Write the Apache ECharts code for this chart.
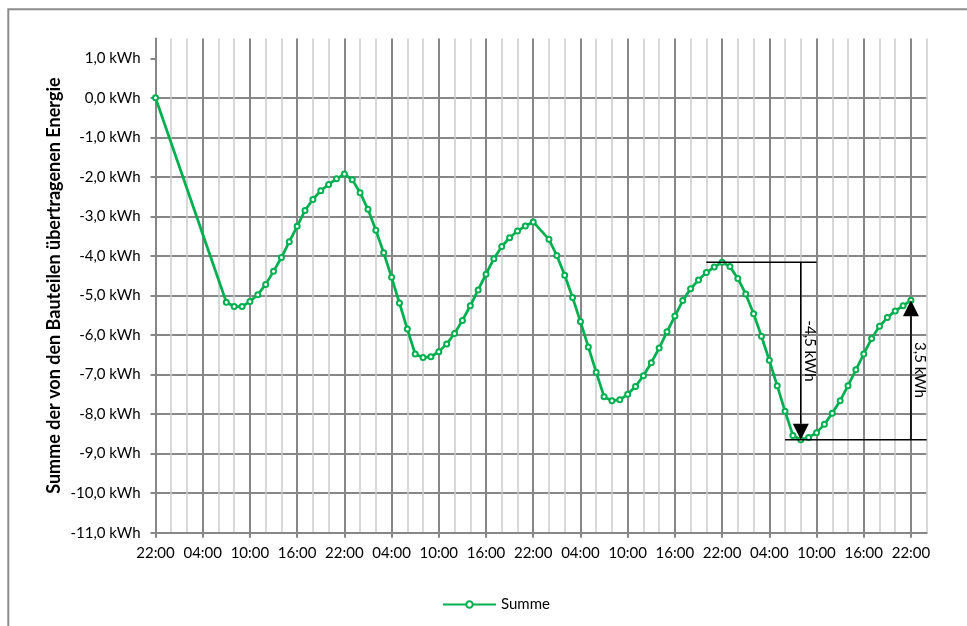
<!DOCTYPE html>
<html>
<head>
<meta charset="utf-8">
<script src="https://cdn.jsdelivr.net/npm/echarts@6.0.0/dist/echarts.min.js"></script>
<style>
  html, body { margin: 0; padding: 0; background: #ffffff; }
  #chart { width: 967px; height: 626px; }
</style>
</head>
<body>
<div id="chart"></div>
<script>
// Hours elapsed since the start (22:00) and the summed energy at that hour
const hours = [
  0,
  9, 10, 11, 12, 13, 14, 15, 16, 17, 18, 19, 20, 21, 22, 23, 24,
  25, 26, 27, 28, 29, 30, 31, 32, 33, 34, 35, 36,
  37, 38, 39, 40, 41, 42, 43, 44, 45, 46, 47, 48,
  50, 51, 52, 53, 54, 55, 56, 57, 58, 59, 60,
  61, 62, 63, 64, 65, 66, 67, 68, 69, 70, 71, 72,
  73, 74, 75, 76, 77, 78, 79, 80, 81, 82, 83, 84,
  85, 86, 87, 88, 89, 90, 91, 92, 93, 94, 95, 96
];
const summe = [
  0.00,
  -5.17, -5.28, -5.28, -5.15, -4.98, -4.72, -4.39, -4.04, -3.64, -3.25, -2.85, -2.57, -2.35, -2.19, -2.05, -1.93,
  -2.07, -2.40, -2.82, -3.35, -3.92, -4.54, -5.19, -5.85, -6.48, -6.57, -6.55, -6.42,
  -6.23, -5.96, -5.63, -5.26, -4.86, -4.46, -4.07, -3.76, -3.54, -3.37, -3.24, -3.14,
  -3.58, -3.99, -4.49, -5.05, -5.66, -6.30, -6.94, -7.56, -7.66, -7.64, -7.50,
  -7.30, -7.03, -6.70, -6.33, -5.92, -5.52, -5.13, -4.83, -4.61, -4.42, -4.28, -4.16,
  -4.27, -4.57, -4.96, -5.46, -6.03, -6.64, -7.28, -7.93, -8.54, -8.65, -8.59, -8.47,
  -8.26, -7.98, -7.66, -7.28, -6.88, -6.48, -6.09, -5.78, -5.56, -5.39, -5.26, -5.12
];

// Time axis: one category per hour, labelled every 6 hours
const axisHours = 98;
const xTickLabels = [
  '22:00', '04:00', '10:00', '16:00',
  '22:00', '04:00', '10:00', '16:00',
  '22:00', '04:00', '10:00', '16:00',
  '22:00', '04:00', '10:00', '16:00',
  '22:00'
];
const yTicks = [-11, -10, -9, -8, -7, -6, -5, -4, -3, -2, -1, 0, 1];
const yMin = -11, yMax = 1.5;

// Difference arrows: [arrow hour, start hour, end hour, guide from, guide to]
const arrowSpecs = [
  [82, 72, 82, 69.9, 84],
  [96, 82, 96, 79.9, 98]
];

const valueAt = h => summe[hours.indexOf(h)];
const categories = [];
for (let h = 0; h <= axisHours; h++) categories.push(String(h));
const lineData = hours.map((h, i) => [h, summe[i]]);
const arrowData = arrowSpecs.map(s => [s[0], valueAt(s[1]), valueAt(s[2]), s[3], s[4]]);

const FONT = 'Lato, "Open Sans", sans-serif';
const DARK = '#878787';
const LIGHT = '#cbcbcb';
const GREEN = '#00b050';
const fmtNum = v => v.toFixed(1).replace('.', ',');

const chart = echarts.init(document.getElementById('chart'), null, { renderer: 'canvas' });

chart.setOption({
  animation: false,
  backgroundColor: '#ffffff',
  textStyle: { fontFamily: FONT },
  graphic: [{
    type: 'rect',
    silent: true,
    z: -10,
    shape: { x: 8.3, y: 9.3, width: 2000, height: 2000 },
    style: { fill: 'none', stroke: '#8c8c8c', lineWidth: 2 }
  }],
  grid: {
    left: 155.5, right: 40.3, top: 38.5, bottom: 93.3,
    containLabel: false,
    outerBoundsMode: 'none'
  },
  legend: {
    data: ['Summe'],
    left: 437,
    top: 592,
    itemWidth: 53,
    itemHeight: 8,
    itemGap: 10,
    textStyle: { fontFamily: FONT, fontSize: 15, color: '#000' }
  },
  xAxis: [
    {
      // light 2-hour grid
      type: 'category',
      position: 'bottom',
      data: categories,
      boundaryGap: false,
      axisLine: { show: false },
      axisTick: { show: false },
      axisLabel: { show: false },
      splitLine: {
        show: true,
        interval: idx => idx % 2 === 0 && idx % 6 !== 0,
        lineStyle: { color: LIGHT, width: 1.5 }
      }
    },
    {
      type: 'category',
      position: 'bottom',
      data: categories,
      boundaryGap: false,
      axisLine: { show: true, lineStyle: { color: DARK, width: 2 } },
      axisTick: {
        show: true,
        interval: idx => idx % 6 === 0,
        length: 5,
        lineStyle: { color: DARK, width: 2 }
      },
      axisLabel: {
        interval: idx => idx % 6 === 0,
        formatter: v => xTickLabels[Number(v) / 6] || '',
        margin: 13,
        fontFamily: FONT,
        fontSize: 15,
        color: '#000'
      },
      splitLine: {
        show: true,
        interval: idx => idx % 6 === 0,
        lineStyle: { color: DARK, width: 2 }
      }
    }
  ],
  yAxis: {
    type: 'value',
    min: yMin,
    max: yMax,
    interval: 1,
    name: 'Summe der von den Bauteilen übertragenen Energie',
    nameLocation: 'middle',
    nameRotate: 90,
    nameGap: 92,
    nameMoveOverlap: false,
    nameTextStyle: { fontFamily: FONT, fontSize: 18, fontWeight: 'bold', color: '#000' },
    axisLine: { show: true, lineStyle: { color: DARK, width: 2 } },
    axisTick: {
      show: true,
      length: 5,
      customValues: yTicks,
      lineStyle: { color: DARK, width: 2 }
    },
    axisLabel: {
      customValues: yTicks,
      formatter: v => fmtNum(v) + ' kWh',
      margin: 15,
      fontFamily: FONT,
      fontSize: 15,
      color: '#000'
    },
    splitLine: {
      show: true,
      showMaxLine: false,
      lineStyle: { color: DARK, width: 2 }
    }
  },
  series: [
    {
      name: 'Summe',
      type: 'line',
      xAxisIndex: 1,
      data: lineData,
      symbol: 'circle',
      symbolSize: 5,
      showAllSymbol: true,
      lineStyle: { color: GREEN, width: 2.75 },
      itemStyle: { color: '#ffffff', borderColor: GREEN, borderWidth: 2 },
      z: 3
    },
    {
      type: 'custom',
      xAxisIndex: 1,
      data: arrowData,
      encode: { x: [0, 3, 4], y: [1, 2] },
      z: 5,
      silent: true,
      clip: false,
      renderItem: function (params, api) {
        const h = api.value(0), v0 = api.value(1), v1 = api.value(2);
        const g0 = api.value(3), g1 = api.value(4);
        const pFrom = api.coord([h, v0]);
        const pTo = api.coord([h, v1]);
        const gA = api.coord([g0, v0]);
        const gB = api.coord([g1, v0]);
        const dir = pTo[1] > pFrom[1] ? 1 : -1;
        const headLen = 16, headHalf = 8;
        const base = pTo[1] - dir * headLen;
        const label = fmtNum(v1 - v0) + ' kWh';
        const stroke = { stroke: '#000', lineWidth: 1.6 };
        return {
          type: 'group',
          children: [
            { type: 'line', shape: { x1: gA[0], y1: gA[1], x2: gB[0], y2: gB[1] }, style: stroke },
            { type: 'line', shape: { x1: pFrom[0], y1: pFrom[1], x2: pTo[0], y2: base }, style: stroke },
            {
              type: 'polygon',
              shape: { points: [[pTo[0], pTo[1]], [pTo[0] - headHalf, base], [pTo[0] + headHalf, base]] },
              style: { fill: '#000' }
            },
            {
              type: 'text',
              x: pTo[0] + 9,
              y: (pFrom[1] + pTo[1]) / 2,
              rotation: -Math.PI / 2,
              style: {
                text: label,
                align: 'center',
                verticalAlign: 'middle',
                font: '15px ' + FONT,
                fill: '#000'
              }
            }
          ]
        };
      }
    }
  ]
});
</script>
</body>
</html>
